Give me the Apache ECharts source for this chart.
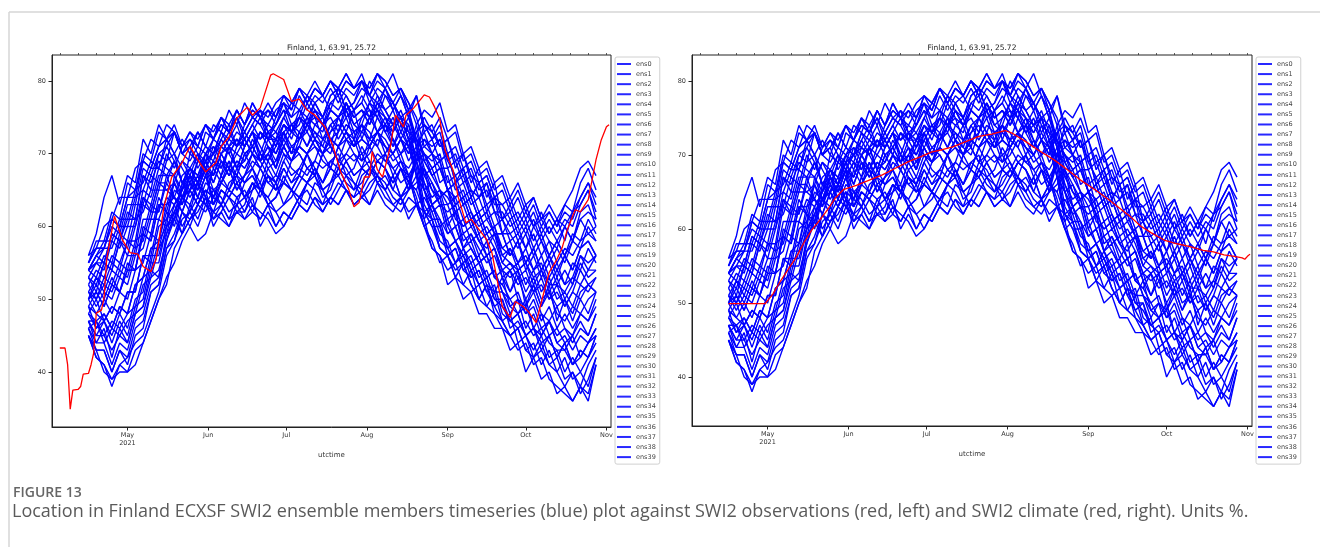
<!DOCTYPE html>
<html><head><meta charset="utf-8">
<script src="https://cdn.jsdelivr.net/npm/echarts@6/dist/echarts.min.js"></script>
<style>html,body{margin:0;padding:0;background:#fff;}#c{width:1320px;height:547px;}</style>
</head><body><div id="c"></div>
<script>
const panelTitle = 'Finland, 1, 63.91, 25.72';
const xAxisName = 'utctime';
const figureLabel = 'FIGURE 13';
const captionText = 'Location in Finland ECXSF SWI2 ensemble members timeseries (blue) plot against SWI2 observations (red, left) and SWI2 climate (red, right). Units %.';
const yTicks = [40, 50, 60, 70, 80];
const monthTicks = ['2021-05-01','2021-06-01','2021-07-01','2021-08-01','2021-09-01','2021-10-01','2021-11-01'];
const monthLabels = ['May\n2021','Jun','Jul','Aug','Sep','Oct','Nov'];
const weekTicks = ['2021-04-05','2021-04-12','2021-04-19','2021-04-26','2021-05-03','2021-05-10','2021-05-17','2021-05-24','2021-05-31','2021-06-07','2021-06-14','2021-06-21','2021-06-28','2021-07-05','2021-07-12','2021-07-19','2021-07-26','2021-08-02','2021-08-09','2021-08-16','2021-08-23','2021-08-30','2021-09-06','2021-09-13','2021-09-20','2021-09-27','2021-10-04','2021-10-11','2021-10-18','2021-10-25','2021-11-01'];

const ensDates = ['2021-04-16','2021-04-19','2021-04-22','2021-04-25','2021-04-28','2021-05-01','2021-05-04','2021-05-07','2021-05-10','2021-05-13','2021-05-16','2021-05-19','2021-05-22','2021-05-25','2021-05-28','2021-05-31','2021-06-03','2021-06-06','2021-06-09','2021-06-12','2021-06-15','2021-06-18','2021-06-21','2021-06-24','2021-06-27','2021-06-30','2021-07-03','2021-07-06','2021-07-09','2021-07-12','2021-07-15','2021-07-18','2021-07-21','2021-07-24','2021-07-27','2021-07-30','2021-08-02','2021-08-05','2021-08-08','2021-08-11','2021-08-14','2021-08-17','2021-08-20','2021-08-23','2021-08-26','2021-08-29','2021-09-01','2021-09-04','2021-09-07','2021-09-10','2021-09-13','2021-09-16','2021-09-19','2021-09-22','2021-09-25','2021-09-28','2021-10-01','2021-10-04','2021-10-07','2021-10-10','2021-10-13','2021-10-16','2021-10-19','2021-10-22','2021-10-25','2021-10-28'];

const ens0 = [53,51,55,54,58,56,60,64,62,66,66,69,66,68,70,67,69,67,71,68,71,73,69,71,68,73,70,73,75,72,74,71,75,73,76,72,75,73,74,71,74,71,72,68,63,64,60,62,57,59,56,58,53,54,51,54,49,52,49,52,47,50,47,50,48,51];
const ens1 = [46,43,43,40,43,42,46,47,51,52,57,58,61,62,60,63,65,64,62,63,66,67,65,64,66,63,64,66,68,67,65,66,69,68,66,65,67,69,68,65,64,66,65,62,63,64,60,58,59,57,55,56,53,52,54,50,49,51,48,47,49,46,45,48,47,50];
const ens2 = [54,56,55,59,58,62,61,67,65,70,69,73,70,72,71,74,72,75,73,76,74,77,75,74,76,77,76,79,77,79,78,80,78,80,79,81,78,80,79,77,79,76,78,73,74,71,72,68,70,66,68,64,66,61,63,60,62,60,61,59,61,58,62,63,65,61];
const ens3 = [49,46,48,46,49,48,52,53,57,58,62,60,64,63,66,68,67,70,71,68,69,72,70,69,71,73,70,71,74,73,71,70,73,75,72,74,71,73,75,72,70,71,67,62,60,57,56,53,55,52,50,52,49,47,48,44,45,42,43,41,42,39,40,38,41,43];
const ens4 = [56,59,64,67,63,67,66,72,70,74,72,73,70,71,68,70,69,72,70,72,71,73,70,73,71,74,72,75,73,76,74,75,73,77,75,76,74,76,75,73,75,72,73,69,70,66,67,63,64,61,62,59,60,56,57,55,57,54,56,53,55,52,55,54,57,55];
const ens5 = [45,42,41,38,41,40,43,44,47,50,53,55,58,60,58,59,62,61,60,63,64,62,61,63,62,60,62,64,65,63,62,64,66,65,63,64,66,67,65,63,62,64,63,61,63,60,57,58,56,54,55,52,51,53,49,48,50,46,45,47,44,43,45,42,44,46];
const ens6 = [50,52,50,53,51,55,54,60,59,64,62,66,63,67,64,67,64,67,65,68,66,68,65,68,66,69,67,68,70,67,70,68,71,69,70,68,71,69,70,67,69,66,70,71,72,69,70,66,68,64,66,62,64,59,61,58,60,57,59,56,58,56,59,58,61,59];
const ens7 = [54,53,56,55,59,58,63,63,67,66,70,68,71,72,70,69,72,74,73,71,74,76,75,73,72,75,77,76,74,77,78,76,79,78,76,77,80,78,76,77,75,74,69,65,62,59,58,55,57,54,52,53,50,49,47,48,45,46,43,45,42,44,41,42,44,45];
const ens8 = [47,45,47,44,47,45,49,50,55,55,60,61,64,62,66,64,68,66,69,67,70,68,70,68,69,71,69,71,70,72,70,72,71,73,71,73,72,73,71,70,72,70,73,75,73,75,72,73,69,70,67,68,65,66,63,65,62,64,61,63,61,63,62,66,68,65];
const ens9 = [55,57,57,61,60,64,65,69,68,71,72,70,68,66,69,68,65,66,68,65,67,69,68,66,67,70,68,67,70,71,69,68,71,72,70,69,72,71,69,70,68,67,63,60,58,55,56,53,52,54,50,49,51,47,45,46,43,42,44,41,40,38,40,37,39,42];
const ens10 = [48,50,47,49,48,51,51,56,56,61,60,67,65,68,66,69,70,73,71,73,72,74,72,74,73,75,73,76,75,77,75,77,76,78,76,77,75,78,76,74,76,73,72,70,68,69,65,66,63,64,61,62,59,59,56,58,55,57,54,56,53,56,54,57,58,56];
const ens11 = [51,49,51,50,53,52,56,57,61,61,64,63,60,62,64,63,61,62,64,63,61,62,65,64,62,63,65,64,63,66,65,63,65,67,66,64,65,67,66,64,63,65,66,68,65,64,65,61,60,61,58,57,59,55,54,55,52,54,51,53,50,51,49,52,51,53];
const ens12 = [53,52,55,54,58,57,61,62,65,65,69,70,72,70,73,71,74,73,76,74,77,75,76,75,77,78,77,79,78,80,78,80,79,81,79,80,79,81,80,78,79,77,75,71,70,68,68,65,66,63,64,61,62,59,59,57,59,56,58,55,57,55,58,57,60,58];
const ens13 = [47,44,46,42,46,44,48,49,54,53,59,61,64,66,64,67,69,68,71,70,72,70,69,72,73,71,73,72,74,75,72,73,75,76,73,74,77,75,73,74,72,71,67,65,63,60,61,58,56,57,55,53,54,51,49,50,48,49,46,47,45,46,44,46,45,48];
const ens14 = [54,56,58,58,61,61,65,66,69,68,72,70,66,67,65,68,63,65,64,66,64,66,64,67,65,66,65,67,66,68,66,68,67,69,67,68,67,69,68,66,68,65,70,74,72,74,70,71,68,69,66,67,64,65,62,64,61,63,60,62,60,62,61,64,66,63];
const ens15 = [45,43,40,39,41,42,44,45,48,51,56,58,62,60,63,65,64,67,69,66,67,70,69,67,66,69,71,70,68,69,72,71,69,72,73,70,71,73,70,72,69,68,70,67,68,65,63,64,61,62,59,60,58,55,57,54,55,52,54,51,53,50,52,55,53,54];
const ens16 = [52,50,53,52,55,54,58,59,63,62,67,67,69,67,70,68,71,70,72,71,73,71,73,72,72,74,73,75,74,76,74,76,75,77,75,76,75,77,76,74,75,72,67,61,57,56,52,53,50,51,48,48,46,46,43,44,40,42,39,40,37,38,36,38,36,41];
const ens17 = [48,46,47,45,48,46,50,51,56,56,60,62,59,61,63,62,64,63,61,64,65,63,62,61,59,60,62,64,66,65,63,66,67,65,64,67,68,66,65,67,64,66,69,72,70,72,69,67,68,65,64,66,62,61,62,59,61,58,60,58,57,60,58,62,63,60];
const ens18 = [55,58,58,62,61,66,65,70,69,73,72,74,71,73,71,74,72,74,73,75,73,75,74,76,74,76,75,78,76,78,77,79,77,79,78,80,77,79,78,76,78,75,72,67,65,63,63,60,61,58,59,56,57,53,54,52,53,51,52,50,51,49,51,50,52,51];
const ens19 = [50,48,50,48,51,50,54,55,59,58,63,64,62,65,63,66,65,63,66,67,64,65,68,66,65,68,66,67,70,68,66,69,70,67,68,71,69,67,70,68,66,67,63,60,61,57,56,57,54,53,54,51,49,50,46,47,45,43,45,42,43,40,42,40,42,44];
const ens20 = [53,55,54,58,57,60,60,65,64,68,67,69,66,68,67,69,66,69,67,69,68,70,68,70,68,71,69,71,70,72,70,72,71,73,71,72,71,73,72,70,72,70,74,76,75,77,73,74,70,71,68,69,66,67,64,66,63,64,61,62,60,63,65,68,69,67];
const ens21 = [46,44,44,41,44,43,47,48,52,53,58,61,66,65,69,71,70,72,74,71,73,75,74,72,75,77,74,75,78,76,75,78,79,76,77,79,78,76,79,77,75,76,72,70,67,68,65,63,64,61,62,59,60,57,56,58,54,56,53,55,52,54,52,56,54,56];
const ens22 = [49,51,49,52,51,54,54,59,58,63,62,61,59,63,61,64,60,62,60,62,61,63,61,63,60,62,61,63,62,64,62,64,63,65,63,64,63,65,63,62,64,61,63,64,62,63,59,60,57,58,55,56,53,52,50,51,48,50,47,49,46,48,46,48,47,49];
const ens23 = [51,53,52,55,54,58,57,63,62,66,65,66,69,68,66,70,71,69,68,71,72,70,73,71,69,72,74,73,71,74,75,72,73,76,74,73,75,76,73,75,72,74,71,73,70,69,70,66,67,64,66,63,64,61,59,60,57,60,58,56,58,56,58,61,59,60];
const ens24 = [46,47,44,46,45,47,48,52,53,57,59,63,65,70,69,73,72,75,73,76,74,76,75,77,75,78,76,79,77,79,78,80,78,80,79,80,78,81,79,81,78,76,71,65,61,61,57,58,55,56,53,54,51,51,48,50,46,48,45,47,44,45,43,45,44,46];
const ens25 = [54,55,57,57,60,60,64,65,68,68,71,69,66,64,66,63,62,65,64,62,63,66,65,63,64,67,65,64,66,68,65,66,68,66,65,68,69,66,67,65,68,66,65,68,66,64,65,62,60,61,58,59,57,54,55,53,54,51,53,50,52,49,51,54,52,53];
const ens26 = [49,48,47,49,48,51,51,56,55,60,61,65,64,67,65,68,67,70,68,70,69,71,69,71,70,72,70,73,71,73,72,74,72,74,73,74,72,75,73,71,73,71,73,74,72,73,69,70,67,68,65,66,63,63,61,62,60,62,59,61,59,61,60,63,65,62];
const ens27 = [56,57,60,61,64,64,68,69,72,71,74,73,70,71,73,71,70,73,72,74,71,73,75,72,74,76,73,74,77,75,74,77,78,75,76,78,76,75,78,77,74,73,69,63,61,57,56,54,55,52,50,52,48,47,45,46,43,44,41,43,40,42,39,40,38,42];
const ens28 = [45,42,41,39,40,40,41,44,47,50,52,57,59,61,62,64,63,66,65,67,66,67,65,67,66,68,66,68,67,69,68,69,68,70,69,70,68,70,69,68,69,67,69,70,68,69,65,66,63,64,61,62,59,59,56,58,55,57,54,56,54,56,54,57,58,56];
const ens29 = [51,50,52,51,54,53,57,58,62,62,66,64,67,68,66,69,67,70,68,67,70,71,69,70,72,70,69,72,73,71,70,73,74,72,71,74,73,71,74,72,70,72,69,66,64,65,61,62,58,59,57,55,56,53,51,53,50,52,49,51,48,47,49,48,50,51];
const ens30 = [52,54,53,56,55,58,58,64,63,67,67,64,62,65,63,65,61,63,61,62,62,64,60,62,60,62,61,63,62,64,63,64,63,65,64,65,63,66,64,63,64,62,63,62,60,60,56,57,54,55,52,53,50,50,47,48,45,46,44,45,42,44,41,43,42,45];
const ens31 = [48,47,48,46,49,48,52,53,57,57,61,63,65,67,66,69,70,68,71,72,70,71,73,72,70,73,74,72,75,74,73,76,75,77,74,75,77,76,74,76,73,75,78,74,73,71,72,69,70,67,66,67,64,63,64,61,63,60,62,59,61,60,62,64,66,64];
const ens32 = [54,56,57,60,59,63,63,68,67,70,71,73,71,73,72,74,73,75,74,76,74,77,75,76,75,78,77,79,77,79,78,80,79,81,79,80,79,81,80,78,79,77,74,69,67,65,64,62,63,60,61,58,59,56,55,54,55,53,54,52,52,51,53,52,54,54];
const ens33 = [45,43,43,40,43,41,45,46,51,52,57,59,62,61,63,65,64,66,68,65,67,68,66,69,67,66,69,70,68,67,70,71,69,70,72,69,70,72,71,69,70,67,64,60,57,56,54,55,52,51,52,49,48,46,45,43,44,41,42,39,38,37,36,38,37,41];
const ens34 = [50,53,51,54,53,56,56,61,61,65,65,64,63,66,64,67,63,65,64,66,64,66,65,67,65,66,65,67,66,68,66,68,67,69,67,68,67,69,68,66,68,65,69,70,69,70,66,67,64,65,62,63,60,61,58,59,57,59,56,58,55,57,56,58,59,58];
const ens35 = [47,47,45,47,46,48,49,53,54,58,60,62,65,68,67,70,72,71,73,75,72,74,76,73,74,77,75,76,78,77,75,78,79,76,77,80,78,77,79,76,78,75,71,66,63,61,59,60,57,55,56,53,54,51,50,48,49,46,48,45,46,44,45,47,45,48];
const ens36 = [50,51,49,52,51,54,54,59,58,63,63,66,64,67,65,68,66,69,67,69,68,70,68,70,68,71,69,71,70,72,70,72,71,73,71,72,71,73,71,70,72,69,71,72,71,72,68,69,66,67,64,65,62,62,60,61,59,61,58,60,58,60,58,61,62,61];
const ens37 = [54,55,55,59,58,61,61,67,66,69,68,67,64,65,67,64,62,63,65,64,62,65,66,63,64,66,65,63,66,67,64,65,68,67,65,66,68,67,65,67,64,65,67,65,66,63,62,63,59,60,58,56,57,54,53,54,51,53,50,51,49,50,48,51,52,51];
const ens38 = [47,45,45,43,45,44,48,49,53,54,58,62,64,65,66,68,70,71,70,72,71,73,72,73,71,74,73,75,74,76,74,76,75,77,75,76,74,77,75,74,75,72,68,62,61,58,57,55,56,53,54,51,52,48,47,46,47,45,46,44,43,43,41,43,42,45];
const ens39 = [55,57,57,61,60,64,64,69,68,71,72,73,70,69,71,70,68,71,70,68,71,73,71,69,72,73,71,72,74,72,71,74,75,73,72,75,76,73,74,73,75,72,70,69,67,68,65,64,65,62,60,61,59,57,58,55,56,54,55,52,54,52,53,56,55,56];

const obsDates = ['2021-04-05','2021-04-07','2021-04-08','2021-04-09','2021-04-10','2021-04-12','2021-04-13','2021-04-14','2021-04-16','2021-04-17','2021-04-18','2021-04-19','2021-04-21','2021-04-22','2021-04-23','2021-04-26','2021-04-29','2021-05-02','2021-05-05','2021-05-07','2021-05-10','2021-05-12','2021-05-15','2021-05-18','2021-05-22','2021-05-25','2021-05-28','2021-05-31','2021-06-04','2021-06-06','2021-06-09','2021-06-12','2021-06-16','2021-06-18','2021-06-21','2021-06-25','2021-06-26','2021-06-30','2021-07-03','2021-07-06','2021-07-09','2021-07-12','2021-07-16','2021-07-19','2021-07-22','2021-07-25','2021-07-27','2021-07-29','2021-07-31','2021-08-02','2021-08-03','2021-08-05','2021-08-07','2021-08-10','2021-08-12','2021-08-15','2021-08-16','2021-08-19','2021-08-23','2021-08-25','2021-08-27','2021-08-29','2021-08-31','2021-09-03','2021-09-05','2021-09-08','2021-09-10','2021-09-13','2021-09-16','2021-09-18','2021-09-20','2021-09-22','2021-09-25','2021-09-27','2021-09-30','2021-10-02','2021-10-05','2021-10-08','2021-10-10','2021-10-13','2021-10-15','2021-10-17','2021-10-20','2021-10-22','2021-10-25','2021-10-26','2021-10-28','2021-10-30','2021-11-01','2021-11-02'];
const obsValues = [43.3,43.3,41.0,34.9,37.5,37.6,38.0,39.7,39.8,41.0,42.6,48.1,48.5,50.2,55.5,61.4,58.2,56.4,56.2,54.5,53.8,55.5,62.7,66.8,68.8,71.0,69.2,67.5,68.8,71.0,72.3,74.9,76.4,75.3,76.3,80.8,81.0,80.2,77.2,77.5,76.0,75.3,73.6,71.0,67.4,65.1,62.7,63.3,66.8,66.8,70.3,67.8,66.8,71.0,75.3,73.7,75.3,76.3,78.1,77.8,76.4,74.7,70.5,67.8,64.1,60.5,61.0,59.6,58.2,56.4,52.7,49.0,47.5,49.7,49.0,48.3,46.8,51.0,53.7,55.5,57.1,59.6,62.3,62.0,63.7,65.5,69.2,71.9,73.7,74.0];

const climDates = ['2021-04-16','2021-04-23','2021-04-30','2021-05-03','2021-05-06','2021-05-09','2021-05-12','2021-05-15','2021-05-18','2021-05-21','2021-05-24','2021-05-27','2021-05-30','2021-06-04','2021-06-09','2021-06-14','2021-06-19','2021-06-24','2021-06-29','2021-07-03','2021-07-07','2021-07-11','2021-07-16','2021-07-21','2021-07-26','2021-07-31','2021-08-03','2021-08-08','2021-08-13','2021-08-19','2021-08-24','2021-08-29','2021-09-04','2021-09-09','2021-09-13','2021-09-17','2021-09-21','2021-09-25','2021-09-30','2021-10-05','2021-10-10','2021-10-15','2021-10-19','2021-10-23','2021-10-27','2021-10-30','2021-10-31','2021-11-01','2021-11-02'];
const climValues = [49.9,49.9,49.9,51.2,53.0,54.6,56.2,58.2,59.9,61.2,62.6,64.2,65.3,65.9,66.6,67.3,68.2,69.1,69.8,70.4,70.7,71.1,71.8,72.5,72.8,73.3,72.9,71.8,70.6,69.3,68.0,66.6,65.2,63.9,62.8,61.7,60.4,59.5,58.5,58.0,57.6,57.1,56.9,56.5,56.3,56.1,55.9,56.3,56.6];

const ensemble = [ens0,ens1,ens2,ens3,ens4,ens5,ens6,ens7,ens8,ens9,ens10,ens11,ens12,ens13,ens14,ens15,ens16,ens17,ens18,ens19,ens20,ens21,ens22,ens23,ens24,ens25,ens26,ens27,ens28,ens29,ens30,ens31,ens32,ens33,ens34,ens35,ens36,ens37,ens38,ens39];

const DAY = 86400000;
const ts = s => { const p = s.split('-').map(Number); return Date.UTC(p[0], p[1] - 1, p[2]) / DAY; };
const X_MIN = ts('2021-04-02');
const X_MAX = ts('2021-11-02') + 0.75;
const monthTs = monthTicks.map(ts);
const weekTs = weekTicks.map(ts);
const ensX = ensDates.map(ts);
const names = ensemble.map((_, i) => 'ens' + i);
const FONT = 'DejaVu Sans';
const BLUE = '#0000ff';

function mainX(gridIndex) {
  return {
    type: 'value', gridIndex, min: X_MIN, max: X_MAX,
    name: xAxisName, nameLocation: 'middle', nameGap: 19,
    nameTextStyle: { fontSize: 7, color: '#333', fontFamily: FONT },
    axisLine: { show: true, lineStyle: { color: '#222', width: 1 } },
    axisTick: { show: true, customValues: monthTs, length: 3.5, lineStyle: { color: '#222', width: 1 } },
    axisLabel: { customValues: monthTs, fontSize: 6.5, color: '#333', fontFamily: FONT, margin: 4, lineHeight: 8,
      formatter: v => { const i = monthTs.findIndex(m => Math.abs(m - v) < 0.01); return i >= 0 ? monthLabels[i] : ''; } },
    splitLine: { show: false }
  };
}
function minorX(gridIndex) {
  return {
    type: 'value', gridIndex, min: X_MIN, max: X_MAX,
    axisLine: { show: false },
    axisTick: { show: true, customValues: weekTs, length: 2, lineStyle: { color: '#333', width: 0.8 } },
    axisLabel: { show: false, customValues: weekTs }, splitLine: { show: false }
  };
}
function yAx(gridIndex, min, max) {
  return {
    type: 'value', gridIndex, min, max,
    axisLine: { show: true, lineStyle: { color: '#222', width: 1 } },
    axisTick: { show: true, customValues: yTicks, length: 3.5, lineStyle: { color: '#222' } },
    axisLabel: { customValues: yTicks, fontSize: 6.5, color: '#333', fontFamily: FONT, margin: 6 },
    splitLine: { show: false }
  };
}
function ensSeries(xi, yi) {
  return ensemble.map((vals, i) => ({
    type: 'line', name: names[i], xAxisIndex: xi, yAxisIndex: yi,
    data: vals.map((v, j) => [ensX[j], v]),
    symbol: 'none', silent: true, z: 2,
    lineStyle: { color: BLUE, width: 1.4 }, itemStyle: { color: BLUE }
  }));
}
function redSeries(dates, vals, xi, yi) {
  return {
    type: 'line', name: 'ref' + xi, xAxisIndex: xi, yAxisIndex: yi,
    data: vals.map((v, j) => [ts(dates[j]), v]),
    symbol: 'none', silent: true, z: 3,
    lineStyle: { color: '#ff0000', width: 1.3 }, itemStyle: { color: '#ff0000' }
  };
}
function legendAt(left) {
  return {
    data: names, orient: 'vertical', left, top: 57, padding: [3, 4, 3, 2],
    itemGap: 2.08, itemWidth: 14, itemHeight: 2, icon: 'rect', selectedMode: false,
    borderColor: '#d0d0d0', borderWidth: 1, borderRadius: 2, backgroundColor: '#fff',
    itemStyle: { color: '#2828ff' },
    textStyle: { fontSize: 6.5, color: '#444', fontFamily: FONT, lineHeight: 8 }
  };
}

const chart = echarts.init(document.getElementById('c'), null, { renderer: 'canvas' });
chart.setOption({
  animation: false,
  backgroundColor: '#fff',
  title: [
    { text: panelTitle, left: 331.5, top: 44, textAlign: 'center', padding: 0,
      textStyle: { fontSize: 7.5, fontWeight: 'normal', color: '#222', fontFamily: FONT } },
    { text: panelTitle, left: 972, top: 44, textAlign: 'center', padding: 0,
      textStyle: { fontSize: 7.5, fontWeight: 'normal', color: '#222', fontFamily: FONT } },
    { text: figureLabel, left: 13, top: 486, padding: 0,
      textStyle: { fontSize: 14, fontWeight: 600, color: '#666', fontFamily: 'Open Sans' } },
    { text: captionText, left: 12, top: 503, padding: 0,
      textStyle: { fontSize: 18, fontWeight: 'normal', color: '#5a5a5a', fontFamily: 'Open Sans' } }
  ],
  legend: [legendAt(615), legendAt(1256)],
  grid: [
    { left: 52, top: 55, width: 559, height: 372, show: true, borderColor: '#222', borderWidth: 1, outerBoundsMode: 'none' },
    { left: 692, top: 55, width: 560, height: 371, show: true, borderColor: '#222', borderWidth: 1, outerBoundsMode: 'none' }
  ],
  xAxis: [mainX(0), minorX(0), mainX(1), minorX(1)],
  yAxis: [yAx(0, 32.44, 83.57), yAx(1, 33.38, 83.5)],
  graphic: [
    { type: 'line', shape: { x1: 9, y1: 12, x2: 1320, y2: 12 }, style: { stroke: '#d6d6d6', lineWidth: 1.5 }, silent: true },
    { type: 'line', shape: { x1: 9, y1: 12, x2: 9, y2: 547 }, style: { stroke: '#d6d6d6', lineWidth: 1.5 }, silent: true }
  ],
  series: [
    ...ensSeries(0, 0),
    redSeries(obsDates, obsValues, 0, 0),
    ...ensSeries(2, 1),
    redSeries(climDates, climValues, 2, 1)
  ]
});
</script></body></html>
